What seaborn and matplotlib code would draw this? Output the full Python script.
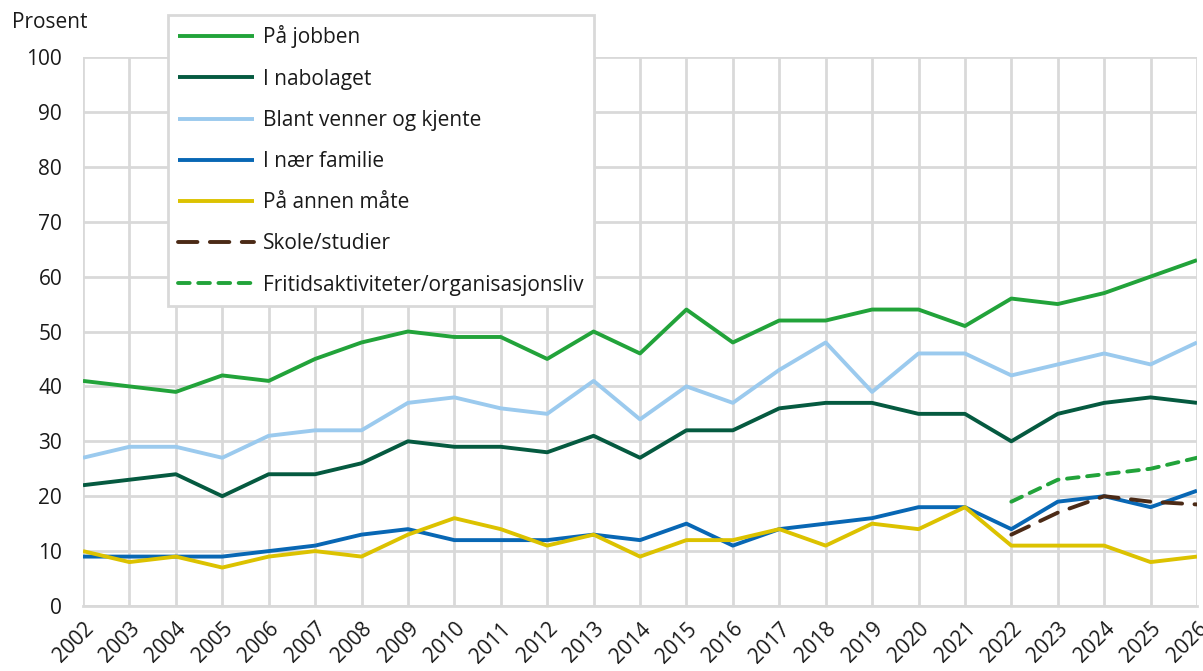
import matplotlib
matplotlib.use("Agg")
import matplotlib.pyplot as plt
import seaborn as sns
import pandas as pd
import numpy as np

years = list(range(2002, 2027))
paa_jobben = [41, 40, 39, 42, 41, 45, 48, 50, 49, 49, 45, 50, 46, 54, 48, 52, 52, 54, 54, 51, 56, 55, 57, 60, 63]
nabolaget = [22, 23, 24, 20, 24, 24, 26, 30, 29, 29, 28, 31, 27, 32, 32, 36, 37, 37, 35, 35, 30, 35, 37, 38, 37]
venner = [27, 29, 29, 27, 31, 32, 32, 37, 38, 36, 35, 41, 34, 40, 37, 43, 48, 39, 46, 46, 42, 44, 46, 44, 48]
familie = [9, 9, 9, 9, 10, 11, 13, 14, 12, 12, 12, 13, 12, 15, 11, 14, 15, 16, 18, 18, 14, 19, 20, 18, 21]
annen = [10, 8, 9, 7, 9, 10, 9, 13, 16, 14, 11, 13, 9, 12, 12, 14, 11, 15, 14, 18, 11, 11, 11, 8, 9]
skole_years = [2022, 2023, 2024, 2025, 2026]
skole = [13, 17, 20, 19, 18.5]
fritid_years = [2022, 2023, 2024, 2025, 2026]
fritid = [19, 23, 24, 25, 27]

series = [
    ("På jobben", years, paa_jobben, "#22a33a", "-"),
    ("I nabolaget", years, nabolaget, "#055a40", "-"),
    ("Blant venner og kjente", years, venner, "#9bcaee", "-"),
    ("I nær familie", years, familie, "#0867b4", "-"),
    ("På annen måte", years, annen, "#dcc200", "-"),
    ("Skole/studier", skole_years, skole, "#4b2a16", (0, (5, 3.2))),
    ("Fritidsaktiviteter/organisasjonsliv", fritid_years, fritid, "#22a33a", (0, (3, 2.2))),
]

sns.set_theme(style="white")
plt.rcParams['font.family'] = ['Open Sans', 'DejaVu Sans']

FS = 15
fig = plt.figure(figsize=(12.03, 6.71), dpi=100)
ax = fig.add_axes([83/1203, 1-606/671, (1197-83)/1203, (606-57)/671])

for name, xs, ys, col, ls in series:
    df = pd.DataFrame({"år": xs, "verdi": ys})
    sns.lineplot(data=df, x="år", y="verdi", ax=ax, color=col, linewidth=2.8,
                 label=name, linestyle=ls, solid_capstyle="butt",
                 dash_capstyle="round")

ax.set_xlim(2002, 2026)
ax.set_ylim(0, 100)
ax.set_xticks(years)
ax.set_xticklabels([str(y) for y in years], rotation=45, ha="right",
                   rotation_mode="anchor", fontsize=FS, color="#1a1a1a")
ax.set_yticks(range(0, 101, 10))
ax.set_yticklabels([str(v) for v in range(0, 101, 10)], fontsize=FS, color="#1a1a1a")
ax.tick_params(axis="both", length=0)
ax.tick_params(axis="x", pad=9)
ax.tick_params(axis="y", pad=15)
ax.grid(True, color="#d9d9d9", linewidth=2)
ax.set_axisbelow(True)
for s in ["top", "right", "left"]:
    ax.spines[s].set_visible(False)
ax.spines["bottom"].set_color("#d9d9d9")
ax.spines["bottom"].set_linewidth(2)
ax.set_xlabel("")
ax.set_ylabel("")

fig.text(12/1203, 1-22/671, "Prosent", fontsize=FS, va="center", ha="left", color="#1a1a1a")

leg = ax.legend(loc="upper left", bbox_to_anchor=(168/1203, 1-15/671),
                bbox_transform=fig.transFigure, fontsize=FS, frameon=True,
                fancybox=False, edgecolor="#d9d9d9", handlelength=3.65,
                handletextpad=0.4, labelspacing=0.97, borderpad=0.5,
                borderaxespad=0)
leg.get_frame().set_linewidth(2)
leg.get_frame().set_facecolor("white")
leg.get_frame().set_alpha(1)
for t in leg.get_texts():
    t.set_color("#1a1a1a")

fig.savefig("out.png", dpi=100)
